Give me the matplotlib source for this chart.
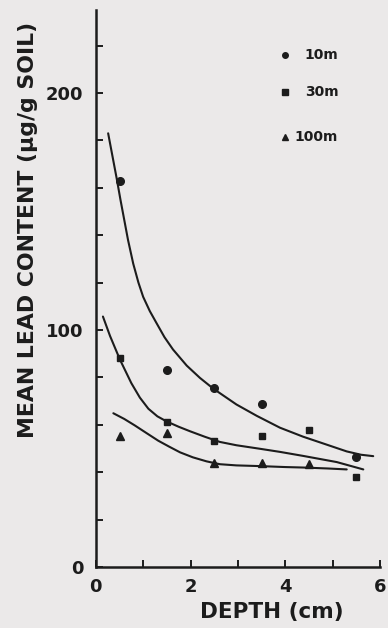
import matplotlib.pyplot as plt
import matplotlib as mpl

# measured points (depth in cm, mean lead in ug/g soil)
depth_10m = [0.5, 1.5, 2.5, 3.5, 5.5]
lead_10m = [163, 83, 75.5, 69, 46.5]
depth_30m = [0.5, 1.5, 2.5, 3.5, 4.5, 5.5]
lead_30m = [88, 61, 53, 55.5, 58, 38]
depth_100m = [0.5, 1.5, 2.5, 3.5, 4.5]
lead_100m = [55.5, 56.5, 44, 44, 43.5]

# hand-drawn fitted curves
fit10_x = [0.26, 0.35, 0.44, 0.52, 0.60, 0.68, 0.79, 0.90, 1.00, 1.14, 1.28, 1.45, 1.63,
           1.92, 2.20, 2.48, 2.97, 3.40, 3.89, 4.38, 4.90, 5.30, 5.60, 5.86]
fit10_y = [183, 173.5, 164, 155, 146.5, 138, 128, 120, 114, 108, 103, 97, 91.8,
           85, 79.8, 75.3, 68.6, 63.8, 58.8, 55, 51.5, 48.8, 47.4, 46.8]
fit30_x = [0.15, 0.30, 0.51, 0.75, 0.93, 1.11, 1.30, 1.49, 1.75, 1.99, 2.30, 2.62,
           2.97, 3.47, 3.89, 4.38, 5.09, 5.65]
fit30_y = [105.7, 97.5, 87.5, 77.6, 71.5, 66.8, 63.6, 61.5, 59.2, 57.3, 55, 52.8,
           51.4, 49.9, 48.6, 46.9, 44.3, 41.2]
fit100_x = [0.37, 0.60, 0.82, 1.05, 1.32, 1.55, 1.78, 2.05, 2.34, 2.62, 2.97, 3.47,
            4.00, 4.38, 4.90, 5.30]
fit100_y = [64.9, 62.5, 59.8, 56.8, 53.3, 50.8, 48.4, 46.3, 44.6, 43.4, 42.9, 42.6,
            42.2, 42, 41.6, 41.2]

legend_labels = ['10m', '30m', '100m']
y_ticks = [0, 100, 200]
x_ticks = [0, 2, 4, 6]

ink = '#1c1c1c'
paper = '#ebe9e9'
mpl.rcParams['font.family'] = 'DejaVu Sans'
mpl.rcParams['font.weight'] = 'bold'
mpl.rcParams['axes.labelweight'] = 'bold'

fig = plt.figure(figsize=(3.88, 6.28), dpi=100, facecolor=paper)
ax = fig.add_axes([0.247, 0.097, 0.732, 0.887])
ax.set_facecolor(paper)

# curves
for cx, cy in [(fit10_x, fit10_y), (fit30_x, fit30_y), (fit100_x, fit100_y)]:
    ax.plot(cx, cy, color=ink, lw=1.5, solid_capstyle='round', solid_joinstyle='round')

# points
ax.plot(depth_10m, lead_10m, 'o', color=ink, ms=5.5, ls='none')
ax.plot(depth_30m, lead_30m, 's', color=ink, ms=5, ls='none')
ax.plot(depth_100m, lead_100m, '^', color=ink, ms=5.5, ls='none')

ax.set_xlim(0, 6)
ax.set_ylim(0, 235)
for s in ['top', 'right']:
    ax.spines[s].set_visible(False)
for s in ['left', 'bottom']:
    ax.spines[s].set_linewidth(1.8)
    ax.spines[s].set_color(ink)

ax.set_yticks(y_ticks)
ax.set_yticks(range(0, 235, 20), minor=True)
ax.set_xticks(x_ticks)
ax.set_xticks(range(0, 7), minor=True)
ax.tick_params(which='both', direction='in', color=ink, width=1.4, length=5)
ax.tick_params(axis='y', which='major', pad=9, labelsize=13, labelcolor=ink)
ax.tick_params(axis='x', which='major', pad=8, labelsize=13, labelcolor=ink)

ax.set_xlabel('DEPTH (cm)', fontsize=15.5, fontweight='bold', color=ink, va='center')
ax.xaxis.set_label_coords(0.62, -0.081)
ax.set_ylabel('MEAN LEAD CONTENT (\u03bcg/g SOIL)', fontsize=15.8, fontweight='bold',
              color=ink, va='center')
ax.yaxis.set_label_coords(-0.24, 0.605)

# hand-drawn legend
markers = ['o', 's', '^']
rows = [0.919, 0.853, 0.772]
text_x = [0.736, 0.736, 0.700]
for m, lab, yy, tx in zip(markers, legend_labels, rows, text_x):
    ax.plot([0.665], [yy], m, color=ink, ms=4, transform=ax.transAxes, clip_on=False)
    ax.text(tx, yy, lab, transform=ax.transAxes, fontsize=10, color=ink, va='center', ha='left')

fig.savefig('out.png', dpi=100, facecolor=paper)
